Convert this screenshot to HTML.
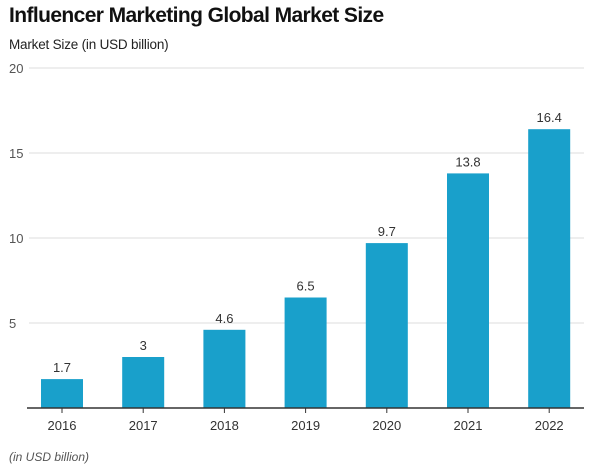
<!DOCTYPE html>
<html><head><meta charset="utf-8"><style>
body{margin:0;width:605px;height:467px;background:#fff;font-family:"Liberation Sans",sans-serif;overflow:hidden}
#title{position:absolute;left:9px;top:4px;font-size:21px;font-weight:bold;color:#111;letter-spacing:-0.6px}
#sub{position:absolute;left:9px;top:37px;font-size:13.5px;color:#222;letter-spacing:-0.2px}
#foot{position:absolute;left:9px;top:450px;font-size:12px;font-style:italic;color:#555}
svg{position:absolute;left:0;top:0}
</style></head><body>
<div id="title">Influencer Marketing Global Market Size</div>
<div id="sub">Market Size (in USD billion)</div>
<div id="foot">(in USD billion)</div>
<svg id="c" width="605" height="467"></svg>
<script>
const categories=["2016","2017","2018","2019","2020","2021","2022"];
const values=[1.7,3,4.6,6.5,9.7,13.8,16.4];
const labels=["1.7","3","4.6","6.5","9.7","13.8","16.4"];
const yTicks=[5,10,15,20];
const svg=document.getElementById('c');const NS='http://www.w3.org/2000/svg';
const y0=408,pxPer=17,xStart=41,band=81.2,bw=42;
const y=v=>y0-v*pxPer;
const x=i=>xStart+i*band;
function mk(t,a,txt){const e=document.createElementNS(NS,t);for(const k in a)e.setAttribute(k,a[k]);if(txt!=null)e.textContent=txt;svg.appendChild(e);return e;}
yTicks.forEach(t=>{
const g=mk('line',{x1:29,x2:584,y1:y(t),y2:y(t),stroke:'#ddd','stroke-width':1});


const l=mk('text',{x:9,y:y(t)+5,'font-size':13,fill:'#555'},String(t));


});
categories.forEach((c,i)=>{
const b=mk('rect',{x:x(i),y:y(values[i]),width:bw,height:values[i]*pxPer,fill:'#19a0cb'});


const v=mk('text',{x:x(i)+bw/2,y:y(values[i])-7,'font-size':13,fill:'#333','text-anchor':'middle'},labels[i]);


const tk=mk('line',{x1:x(i)+bw/2,x2:x(i)+bw/2,y1:y0,y2:y0+5,stroke:'#333','stroke-width':1});


const xl=mk('text',{x:x(i)+bw/2,y:430,'font-size':13,fill:'#333','text-anchor':'middle'},c);


});
const ax=mk('line',{x1:27,x2:584,y1:y0,y2:y0,stroke:'#333','stroke-width':1.5});


</script>
</body></html>
